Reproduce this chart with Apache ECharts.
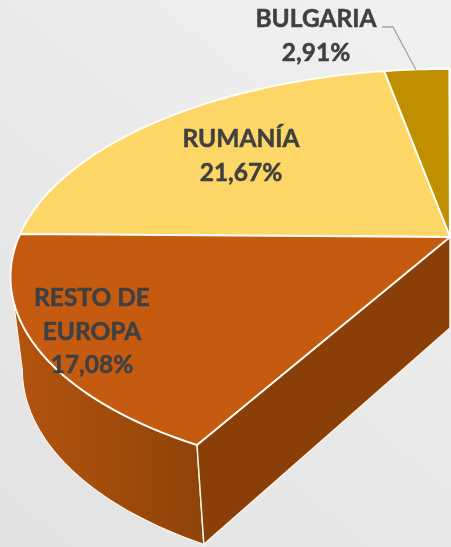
<!DOCTYPE html>
<html>
<head>
<meta charset="utf-8">
<style>
  html, body { margin: 0; padding: 0; background: #e9e9e9; }
  #main { width: 451px; height: 547px; }
</style>
<script src="https://cdn.jsdelivr.net/npm/echarts@6/dist/echarts.min.js"></script>
</head>
<body>
<div id="main"></div>
<script>
// solo se ven tres porciones, el resto de la tarta queda fuera del recorte
const categories = ['BULGARIA', 'RUMANÍA', 'RESTO DE\nEUROPA'];
const shares = [2.91, 21.67, 17.08];
const topColors = ['#BF8F00', '#FCD666', '#C55A11'];

const labelPos = [[316, 36], [241, 156], [92, 332]];
const leaderLine = [[382, 27], [393, 27], [416, 70]];

// perspectiva de la cara superior: disco unidad -> pixeles
const cx = 450, cy = 237;
const rimOrigin = shares[0] * 3.6;
function project(deg) {
  const t = (deg - rimOrigin) * Math.PI / 180;
  const x = Math.cos(t), y = Math.sin(t);
  const w = 1 + 0.1731 * x - 0.0567 * y;
  return [
    cx + (-77.42 * x - 414.6 * y) / w,
    cy + (-194.7 * x + 38.38 * y) / w
  ];
}
function depth(p) {
  return [p[0] + (cx - p[0]) * 0.027, p[1] + 91 + (p[1] - cy) * 0.04];
}

const chart = echarts.init(document.getElementById('main'));

function rim(from, to) {
  const pts = [];
  const n = Math.ceil(Math.abs(to - from));
  for (let i = 0; i <= n; i++) {
    pts.push(project(from + (to - from) * i / n));
  }
  return pts;
}

function renderItem(params, api) {
  const i = params.dataIndex;
  let start = 0;
  for (let k = 0; k < i; k++) start += shares[k] * 3.6;
  const end = start + api.value(1) * 3.6;
  const arc = rim(start, end);
  const children = [];

  if (i === 2) {
    const bottom = arc.map(depth);
    // la pared empieza donde la generatriz toca la silueta izquierda
    let edge = 0;
    for (let j = 0; j < arc.length; j++) {
      if (arc[j][0] + bottom[j][0] < arc[edge][0] + bottom[edge][0]) edge = j;
    }
    children.push({
      type: 'polygon',
      shape: { points: arc.slice(edge).concat(bottom.slice(edge).reverse()) },
      style: {
        fill: new echarts.graphic.LinearGradient(10, 0, 200, 0, [
          { offset: 0, color: '#B5540F' },
          { offset: 1, color: '#8F4409' }
        ], true),
        stroke: '#FBF3E6',
        lineWidth: 1.2
      }
    });
    const d = arc[arc.length - 1];
    const c = [cx, cy];
    children.push({
      type: 'polygon',
      shape: { points: [d, c, depth(c), depth(d)] },
      style: { fill: '#8A3F08', stroke: '#FBF3E6', lineWidth: 1.5 }
    });
  }

  children.push({
    type: 'polygon',
    shape: { points: [[cx, cy]].concat(arc) },
    style: { fill: topColors[i], stroke: '#FFFDF5', lineWidth: 2, lineJoin: 'round' }
  });

  if (i === 0) {
    children.push({
      type: 'polyline',
      shape: { points: leaderLine },
      style: { fill: 'none', stroke: '#A6A6A6', lineWidth: 1.3 }
    });
  }

  children.push({
    type: 'text',
    z2: 10,
    style: {
      x: labelPos[i][0],
      y: labelPos[i][1],
      text: categories[i] + '\n' + api.value(1).toFixed(2).replace('.', ',') + '%',
      font: 'bold 24.5px Lato, sans-serif',
      lineHeight: 33.5,
      fill: '#404040',
      stroke: '#404040',
      lineWidth: 0.5,
      align: 'center',
      verticalAlign: 'middle'
    }
  });

  return { type: 'group', children: children };
}

chart.setOption({
  animation: false,
  backgroundColor: new echarts.graphic.LinearGradient(1, 0, 0, 1, [
    { offset: 0, color: '#F1F1F1' },
    { offset: 1, color: '#E2E2E2' }
  ]),
  series: [{
    type: 'custom',
    coordinateSystem: 'none',
    data: categories.map((c, i) => [c, shares[i]]),
    renderItem: renderItem
  }]
});
</script>
</body>
</html>
